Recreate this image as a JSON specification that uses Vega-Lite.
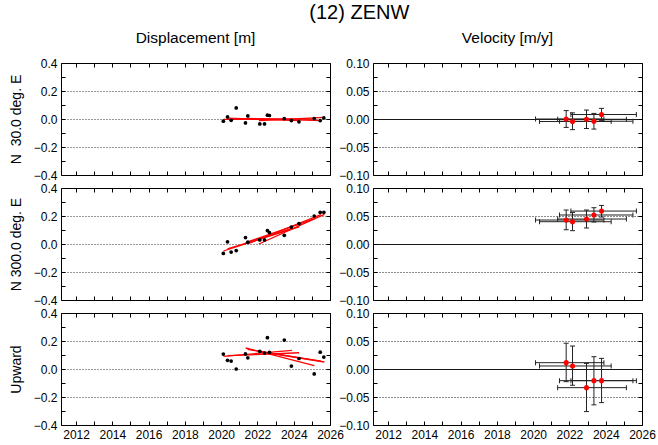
{
  "$schema": "https://vega.github.io/schema/vega-lite/v6.json",
  "padding": {"left": 8, "top": 3, "right": 0, "bottom": 3},
  "title": {"text": "(12) ZENW", "fontSize": 20, "font": "Liberation Sans", "fontWeight": "normal", "color": "black", "anchor": "middle", "offset": 7, "dx": 27},
  "datasets": {
    "disp": [
      {"comp": "N30", "t": 2020.12, "d": -0.016}, {"comp": "N30", "t": 2020.35, "d": 0.015}, {"comp": "N30", "t": 2020.55, "d": -0.009}, {"comp": "N30", "t": 2020.83, "d": 0.079},
      {"comp": "N30", "t": 2021.34, "d": -0.028}, {"comp": "N30", "t": 2021.47, "d": 0.022}, {"comp": "N30", "t": 2022.13, "d": -0.035}, {"comp": "N30", "t": 2022.39, "d": -0.035},
      {"comp": "N30", "t": 2022.55, "d": 0.027}, {"comp": "N30", "t": 2022.66, "d": 0.025}, {"comp": "N30", "t": 2023.48, "d": 0.003}, {"comp": "N30", "t": 2023.87, "d": -0.011},
      {"comp": "N30", "t": 2024.29, "d": -0.02}, {"comp": "N30", "t": 2025.13, "d": 0.003}, {"comp": "N30", "t": 2025.46, "d": -0.011}, {"comp": "N30", "t": 2025.66, "d": 0.008},
      {"comp": "N300", "t": 2020.12, "d": -0.067}, {"comp": "N300", "t": 2020.35, "d": 0.016}, {"comp": "N300", "t": 2020.55, "d": -0.058}, {"comp": "N300", "t": 2020.83, "d": -0.047},
      {"comp": "N300", "t": 2021.34, "d": 0.046}, {"comp": "N300", "t": 2021.47, "d": 0.013}, {"comp": "N300", "t": 2022.13, "d": 0.029}, {"comp": "N300", "t": 2022.39, "d": 0.029},
      {"comp": "N300", "t": 2022.55, "d": 0.096}, {"comp": "N300", "t": 2022.66, "d": 0.082}, {"comp": "N300", "t": 2023.48, "d": 0.062}, {"comp": "N300", "t": 2023.87, "d": 0.121},
      {"comp": "N300", "t": 2024.29, "d": 0.145}, {"comp": "N300", "t": 2025.13, "d": 0.2}, {"comp": "N300", "t": 2025.46, "d": 0.226}, {"comp": "N300", "t": 2025.66, "d": 0.226},
      {"comp": "UP", "t": 2020.12, "d": 0.107}, {"comp": "UP", "t": 2020.35, "d": 0.062}, {"comp": "UP", "t": 2020.55, "d": 0.057}, {"comp": "UP", "t": 2020.83, "d": 0.0},
      {"comp": "UP", "t": 2021.34, "d": 0.108}, {"comp": "UP", "t": 2021.47, "d": 0.08}, {"comp": "UP", "t": 2022.13, "d": 0.126}, {"comp": "UP", "t": 2022.39, "d": 0.114},
      {"comp": "UP", "t": 2022.55, "d": 0.224}, {"comp": "UP", "t": 2022.66, "d": 0.119}, {"comp": "UP", "t": 2023.48, "d": 0.207}, {"comp": "UP", "t": 2023.87, "d": 0.021},
      {"comp": "UP", "t": 2024.29, "d": 0.075}, {"comp": "UP", "t": 2025.13, "d": -0.035}, {"comp": "UP", "t": 2025.46, "d": 0.12}, {"comp": "UP", "t": 2025.66, "d": 0.085}
    ],
    "fit": [
      {"comp": "N30", "t1": 2020.13, "t2": 2023.9, "y1": -0.002, "y2": -0.002},
      {"comp": "N30", "t1": 2020.35, "t2": 2024.3, "y1": 0.006, "y2": -0.012},
      {"comp": "N30", "t1": 2021.35, "t2": 2025.14, "y1": 0.0, "y2": -0.001},
      {"comp": "N30", "t1": 2021.45, "t2": 2025.5, "y1": 0.004, "y2": -0.012},
      {"comp": "N30", "t1": 2022.08, "t2": 2025.69, "y1": -0.012, "y2": 0.012},
      {"comp": "N300", "t1": 2020.13, "t2": 2023.9, "y1": -0.05, "y2": 0.111},
      {"comp": "N300", "t1": 2020.35, "t2": 2024.3, "y1": -0.035, "y2": 0.122},
      {"comp": "N300", "t1": 2021.35, "t2": 2025.14, "y1": 0.01, "y2": 0.179},
      {"comp": "N300", "t1": 2021.45, "t2": 2025.5, "y1": 0.0, "y2": 0.21},
      {"comp": "N300", "t1": 2022.08, "t2": 2025.69, "y1": 0.0, "y2": 0.212},
      {"comp": "UP", "t1": 2020.13, "t2": 2023.9, "y1": 0.09, "y2": 0.133},
      {"comp": "UP", "t1": 2020.35, "t2": 2024.3, "y1": 0.095, "y2": 0.116},
      {"comp": "UP", "t1": 2021.35, "t2": 2025.14, "y1": 0.15, "y2": 0.024},
      {"comp": "UP", "t1": 2021.45, "t2": 2025.5, "y1": 0.14, "y2": 0.056},
      {"comp": "UP", "t1": 2022.08, "t2": 2025.69, "y1": 0.125, "y2": 0.05}
    ],
    "vel": [
      {"comp": "N30", "t": 2021.82, "v": 0.0, "vlo": -0.015, "vhi": 0.015, "tlo": 2020.13, "thi": 2023.9},
      {"comp": "N30", "t": 2022.17, "v": -0.0045, "vlo": -0.019, "vhi": 0.011, "tlo": 2020.35, "thi": 2024.3},
      {"comp": "N30", "t": 2022.94, "v": -0.0005, "vlo": -0.017, "vhi": 0.016, "tlo": 2021.35, "thi": 2025.14},
      {"comp": "N30", "t": 2023.35, "v": -0.004, "vlo": -0.018, "vhi": 0.01, "tlo": 2021.45, "thi": 2025.5},
      {"comp": "N30", "t": 2023.77, "v": 0.008, "vlo": -0.003, "vhi": 0.019, "tlo": 2022.08, "thi": 2025.69},
      {"comp": "N300", "t": 2021.82, "v": 0.0428, "vlo": 0.0255, "vhi": 0.0607, "tlo": 2020.13, "thi": 2023.9},
      {"comp": "N300", "t": 2022.17, "v": 0.0398, "vlo": 0.0238, "vhi": 0.0565, "tlo": 2020.35, "thi": 2024.3},
      {"comp": "N300", "t": 2022.94, "v": 0.0446, "vlo": 0.0286, "vhi": 0.0607, "tlo": 2021.35, "thi": 2025.14},
      {"comp": "N300", "t": 2023.35, "v": 0.0518, "vlo": 0.0393, "vhi": 0.0648, "tlo": 2021.45, "thi": 2025.5},
      {"comp": "N300", "t": 2023.77, "v": 0.0588, "vlo": 0.0482, "vhi": 0.0689, "tlo": 2022.08, "thi": 2025.69},
      {"comp": "UP", "t": 2021.82, "v": 0.0113, "vlo": -0.0226, "vhi": 0.046, "tlo": 2020.13, "thi": 2023.9},
      {"comp": "UP", "t": 2022.17, "v": 0.0054, "vlo": -0.029, "vhi": 0.041, "tlo": 2020.35, "thi": 2024.3},
      {"comp": "UP", "t": 2022.94, "v": -0.0333, "vlo": -0.076, "vhi": 0.01, "tlo": 2021.35, "thi": 2025.14},
      {"comp": "UP", "t": 2023.35, "v": -0.0208, "vlo": -0.064, "vhi": 0.022, "tlo": 2021.45, "thi": 2025.5},
      {"comp": "UP", "t": 2023.77, "v": -0.0208, "vlo": -0.06, "vhi": 0.019, "tlo": 2022.08, "thi": 2025.69}
    ]
  },
  "columns": 2,
  "spacing": {"row": 13, "column": 43},
  "bounds": "flush",
  "concat": [
    {
      "width": 269, "height": 112,
      "title": {"text": "Displacement [m]", "fontSize": 15.5, "font": "Liberation Sans", "fontWeight": "normal", "color": "black", "offset": 11},
      "layer": [
        {"data": {"name": "fit"}, "transform": [{"filter": "datum.comp === 'N30'"}],
         "mark": {"type": "rule", "color": "#ff0000", "strokeWidth": 1.3},
         "encoding": {
           "x": {"field": "t1", "type": "quantitative", "scale": {"domain": [2011.17, 2026], "nice": false, "zero": false},
                 "axis": {"orient": "top", "title": null, "labels": false, "values": [2012,2013,2014,2015,2016,2017,2018,2019,2020,2021,2022,2023,2024,2025,2026], "tickSize": -4, "grid": false}},
           "x2": {"field": "t2"},
           "y": {"field": "y1", "type": "quantitative", "scale": {"domain": [-0.4, 0.4], "nice": false, "zero": false},
                 "axis": {"orient": "right", "title": null, "labels": false, "values": [-0.4,-0.3,-0.2,-0.1,0,0.1,0.2,0.3,0.4], "tickSize": -4, "grid": false}},
           "y2": {"field": "y2"}
         }},
        {"data": {"name": "disp"}, "transform": [{"filter": "datum.comp === 'N30'"}],
         "mark": {"type": "circle", "color": "black", "size": 14, "opacity": 1},
         "encoding": {
           "x": {"field": "t", "type": "quantitative", "scale": {"domain": [2011.17, 2026], "nice": false, "zero": false},
                 "axis": {"orient": "bottom", "title": null, "labels": false, "values": [2012,2013,2014,2015,2016,2017,2018,2019,2020,2021,2022,2023,2024,2025,2026], "tickSize": -4, "grid": false}},
           "y": {"field": "d", "type": "quantitative", "scale": {"domain": [-0.4, 0.4], "nice": false, "zero": false},
                 "axis": {"orient": "left", "title": "N \u00a030.0 deg. E", "values": [-0.4,-0.3,-0.2,-0.1,0,0.1,0.2,0.3,0.4], "format": ".1f",
                          "labelExpr": "round(datum.value*10) % 2 === 0 ? datum.label : ''", "tickSize": -4, "labelPadding": 8,
                          "grid": true, "gridDash": [1, 2], "gridColor": "black",
                          "gridOpacity": {"condition": {"test": "abs(datum.value) < 0.3 && round(datum.value*10) % 2 === 0", "value": 0.8}, "value": 0}}}
         }}
      ],
      "resolve": {"axis": {"x": "independent", "y": "independent"}}
    },
    {
      "width": 269, "height": 112,
      "title": {"text": "Velocity [m/y]", "fontSize": 15.5, "font": "Liberation Sans", "fontWeight": "normal", "color": "black", "offset": 11},
      "data": {"name": "vel"},
      "transform": [{"filter": "datum.comp === 'N30'"}],
      "layer": [
        {"mark": {"type": "rule", "color": "#222", "strokeWidth": 1},
         "encoding": {
           "x": {"field": "tlo", "type": "quantitative", "scale": {"domain": [2011.17, 2026], "nice": false, "zero": false},
                 "axis": {"orient": "bottom", "title": null, "labels": false, "values": [2012,2013,2014,2015,2016,2017,2018,2019,2020,2021,2022,2023,2024,2025,2026], "tickSize": -4, "grid": false}},
           "x2": {"field": "thi"},
           "y": {"field": "v", "type": "quantitative", "scale": {"domain": [-0.1, 0.1], "nice": false, "zero": false},
                 "axis": {"orient": "left", "title": null, "values": [-0.1,-0.075,-0.05,-0.025,0,0.025,0.05,0.075,0.1], "format": ".2f",
                          "labelExpr": "round(datum.value*40) % 2 === 0 ? datum.label : ''", "tickSize": -4, "labelPadding": 8,
                          "grid": true, "gridColor": "black",
                          "gridDash": {"condition": {"test": "abs(datum.value) < 0.001", "value": []}, "value": [1, 2]},
                          "gridOpacity": {"condition": {"test": "abs(datum.value) < 0.001 || abs(abs(datum.value) - 0.05) < 0.001", "value": 0.9}, "value": 0}}}
         }},
        {"mark": {"type": "rule", "color": "#222", "strokeWidth": 1},
         "encoding": {
           "x": {"field": "t", "type": "quantitative",
                 "axis": {"orient": "top", "title": null, "labels": false, "values": [2012,2013,2014,2015,2016,2017,2018,2019,2020,2021,2022,2023,2024,2025,2026], "tickSize": -4, "grid": false}},
           "y": {"field": "vlo", "type": "quantitative",
                 "axis": {"orient": "right", "title": null, "labels": false, "values": [-0.1,-0.075,-0.05,-0.025,0,0.025,0.05,0.075,0.1], "tickSize": -4, "grid": false}},
           "y2": {"field": "vhi"}
         }},
        {"mark": {"type": "tick", "orient": "vertical", "size": 5, "thickness": 1, "color": "#222", "opacity": 1},
         "encoding": {"x": {"field": "tlo", "type": "quantitative", "axis": null}, "y": {"field": "v", "type": "quantitative", "axis": null}}},
        {"mark": {"type": "tick", "orient": "vertical", "size": 5, "thickness": 1, "color": "#222", "opacity": 1},
         "encoding": {"x": {"field": "thi", "type": "quantitative", "axis": null}, "y": {"field": "v", "type": "quantitative", "axis": null}}},
        {"mark": {"type": "tick", "orient": "horizontal", "size": 5, "thickness": 1, "color": "#222", "opacity": 1},
         "encoding": {"x": {"field": "t", "type": "quantitative", "axis": null}, "y": {"field": "vlo", "type": "quantitative", "axis": null}}},
        {"mark": {"type": "tick", "orient": "horizontal", "size": 5, "thickness": 1, "color": "#222", "opacity": 1},
         "encoding": {"x": {"field": "t", "type": "quantitative", "axis": null}, "y": {"field": "vhi", "type": "quantitative", "axis": null}}},
        {"mark": {"type": "circle", "color": "#ff0000", "size": 26, "opacity": 1},
         "encoding": {"x": {"field": "t", "type": "quantitative", "axis": null}, "y": {"field": "v", "type": "quantitative", "axis": null}}}
      ],
      "resolve": {"axis": {"x": "independent", "y": "independent"}}
    },
    {
      "width": 269, "height": 112,
      "layer": [
        {"data": {"name": "fit"}, "transform": [{"filter": "datum.comp === 'N300'"}],
         "mark": {"type": "rule", "color": "#ff0000", "strokeWidth": 1.3},
         "encoding": {
           "x": {"field": "t1", "type": "quantitative", "scale": {"domain": [2011.17, 2026], "nice": false, "zero": false},
                 "axis": {"orient": "top", "title": null, "labels": false, "values": [2012,2013,2014,2015,2016,2017,2018,2019,2020,2021,2022,2023,2024,2025,2026], "tickSize": -4, "grid": false}},
           "x2": {"field": "t2"},
           "y": {"field": "y1", "type": "quantitative", "scale": {"domain": [-0.4, 0.4], "nice": false, "zero": false},
                 "axis": {"orient": "right", "title": null, "labels": false, "values": [-0.4,-0.3,-0.2,-0.1,0,0.1,0.2,0.3,0.4], "tickSize": -4, "grid": false}},
           "y2": {"field": "y2"}
         }},
        {"data": {"name": "disp"}, "transform": [{"filter": "datum.comp === 'N300'"}],
         "mark": {"type": "circle", "color": "black", "size": 14, "opacity": 1},
         "encoding": {
           "x": {"field": "t", "type": "quantitative", "scale": {"domain": [2011.17, 2026], "nice": false, "zero": false},
                 "axis": {"orient": "bottom", "title": null, "labels": false, "values": [2012,2013,2014,2015,2016,2017,2018,2019,2020,2021,2022,2023,2024,2025,2026], "tickSize": -4, "grid": false}},
           "y": {"field": "d", "type": "quantitative", "scale": {"domain": [-0.4, 0.4], "nice": false, "zero": false},
                 "axis": {"orient": "left", "title": "N 300.0 deg. E", "values": [-0.4,-0.3,-0.2,-0.1,0,0.1,0.2,0.3,0.4], "format": ".1f",
                          "labelExpr": "round(datum.value*10) % 2 === 0 ? datum.label : ''", "tickSize": -4, "labelPadding": 8,
                          "grid": true, "gridDash": [1, 2], "gridColor": "black",
                          "gridOpacity": {"condition": {"test": "abs(datum.value) < 0.3 && round(datum.value*10) % 2 === 0", "value": 0.8}, "value": 0}}}
         }}
      ],
      "resolve": {"axis": {"x": "independent", "y": "independent"}}
    },
    {
      "width": 269, "height": 112,
      "data": {"name": "vel"},
      "transform": [{"filter": "datum.comp === 'N300'"}],
      "layer": [
        {"mark": {"type": "rule", "color": "#222", "strokeWidth": 1},
         "encoding": {
           "x": {"field": "tlo", "type": "quantitative", "scale": {"domain": [2011.17, 2026], "nice": false, "zero": false},
                 "axis": {"orient": "bottom", "title": null, "labels": false, "values": [2012,2013,2014,2015,2016,2017,2018,2019,2020,2021,2022,2023,2024,2025,2026], "tickSize": -4, "grid": false}},
           "x2": {"field": "thi"},
           "y": {"field": "v", "type": "quantitative", "scale": {"domain": [-0.1, 0.1], "nice": false, "zero": false},
                 "axis": {"orient": "left", "title": null, "values": [-0.1,-0.075,-0.05,-0.025,0,0.025,0.05,0.075,0.1], "format": ".2f",
                          "labelExpr": "round(datum.value*40) % 2 === 0 ? datum.label : ''", "tickSize": -4, "labelPadding": 8,
                          "grid": true, "gridColor": "black",
                          "gridDash": {"condition": {"test": "abs(datum.value) < 0.001", "value": []}, "value": [1, 2]},
                          "gridOpacity": {"condition": {"test": "abs(datum.value) < 0.001 || abs(abs(datum.value) - 0.05) < 0.001", "value": 0.9}, "value": 0}}}
         }},
        {"mark": {"type": "rule", "color": "#222", "strokeWidth": 1},
         "encoding": {
           "x": {"field": "t", "type": "quantitative",
                 "axis": {"orient": "top", "title": null, "labels": false, "values": [2012,2013,2014,2015,2016,2017,2018,2019,2020,2021,2022,2023,2024,2025,2026], "tickSize": -4, "grid": false}},
           "y": {"field": "vlo", "type": "quantitative",
                 "axis": {"orient": "right", "title": null, "labels": false, "values": [-0.1,-0.075,-0.05,-0.025,0,0.025,0.05,0.075,0.1], "tickSize": -4, "grid": false}},
           "y2": {"field": "vhi"}
         }},
        {"mark": {"type": "tick", "orient": "vertical", "size": 5, "thickness": 1, "color": "#222", "opacity": 1},
         "encoding": {"x": {"field": "tlo", "type": "quantitative", "axis": null}, "y": {"field": "v", "type": "quantitative", "axis": null}}},
        {"mark": {"type": "tick", "orient": "vertical", "size": 5, "thickness": 1, "color": "#222", "opacity": 1},
         "encoding": {"x": {"field": "thi", "type": "quantitative", "axis": null}, "y": {"field": "v", "type": "quantitative", "axis": null}}},
        {"mark": {"type": "tick", "orient": "horizontal", "size": 5, "thickness": 1, "color": "#222", "opacity": 1},
         "encoding": {"x": {"field": "t", "type": "quantitative", "axis": null}, "y": {"field": "vlo", "type": "quantitative", "axis": null}}},
        {"mark": {"type": "tick", "orient": "horizontal", "size": 5, "thickness": 1, "color": "#222", "opacity": 1},
         "encoding": {"x": {"field": "t", "type": "quantitative", "axis": null}, "y": {"field": "vhi", "type": "quantitative", "axis": null}}},
        {"mark": {"type": "circle", "color": "#ff0000", "size": 26, "opacity": 1},
         "encoding": {"x": {"field": "t", "type": "quantitative", "axis": null}, "y": {"field": "v", "type": "quantitative", "axis": null}}}
      ],
      "resolve": {"axis": {"x": "independent", "y": "independent"}}
    },
    {
      "width": 269, "height": 112,
      "layer": [
        {"data": {"name": "fit"}, "transform": [{"filter": "datum.comp === 'UP'"}],
         "mark": {"type": "rule", "color": "#ff0000", "strokeWidth": 1.3},
         "encoding": {
           "x": {"field": "t1", "type": "quantitative", "scale": {"domain": [2011.17, 2026], "nice": false, "zero": false},
                 "axis": {"orient": "top", "title": null, "labels": false, "values": [2012,2013,2014,2015,2016,2017,2018,2019,2020,2021,2022,2023,2024,2025,2026], "tickSize": -4, "grid": false}},
           "x2": {"field": "t2"},
           "y": {"field": "y1", "type": "quantitative", "scale": {"domain": [-0.4, 0.4], "nice": false, "zero": false},
                 "axis": {"orient": "right", "title": null, "labels": false, "values": [-0.4,-0.3,-0.2,-0.1,0,0.1,0.2,0.3,0.4], "tickSize": -4, "grid": false}},
           "y2": {"field": "y2"}
         }},
        {"data": {"name": "disp"}, "transform": [{"filter": "datum.comp === 'UP'"}],
         "mark": {"type": "circle", "color": "black", "size": 14, "opacity": 1},
         "encoding": {
           "x": {"field": "t", "type": "quantitative", "scale": {"domain": [2011.17, 2026], "nice": false, "zero": false},
                 "axis": {"orient": "bottom", "title": null, "labels": true, "values": [2012,2013,2014,2015,2016,2017,2018,2019,2020,2021,2022,2023,2024,2025,2026], "format": "d",
                          "labelExpr": "datum.value % 2 === 0 ? datum.label : ''", "tickSize": -4, "labelPadding": 8, "grid": false}},
           "y": {"field": "d", "type": "quantitative", "scale": {"domain": [-0.4, 0.4], "nice": false, "zero": false},
                 "axis": {"orient": "left", "title": "Upward", "values": [-0.4,-0.3,-0.2,-0.1,0,0.1,0.2,0.3,0.4], "format": ".1f",
                          "labelExpr": "round(datum.value*10) % 2 === 0 ? datum.label : ''", "tickSize": -4, "labelPadding": 8,
                          "grid": true, "gridDash": [1, 2], "gridColor": "black",
                          "gridOpacity": {"condition": {"test": "abs(datum.value) < 0.3 && round(datum.value*10) % 2 === 0", "value": 0.8}, "value": 0}}}
         }}
      ],
      "resolve": {"axis": {"x": "independent", "y": "independent"}}
    },
    {
      "width": 269, "height": 112,
      "data": {"name": "vel"},
      "transform": [{"filter": "datum.comp === 'UP'"}],
      "layer": [
        {"mark": {"type": "rule", "color": "#222", "strokeWidth": 1},
         "encoding": {
           "x": {"field": "tlo", "type": "quantitative", "scale": {"domain": [2011.17, 2026], "nice": false, "zero": false},
                 "axis": {"orient": "bottom", "title": null, "labels": true, "values": [2012,2013,2014,2015,2016,2017,2018,2019,2020,2021,2022,2023,2024,2025,2026], "format": "d",
                          "labelExpr": "datum.value % 2 === 0 ? datum.label : ''", "tickSize": -4, "labelPadding": 8, "grid": false}},
           "x2": {"field": "thi"},
           "y": {"field": "v", "type": "quantitative", "scale": {"domain": [-0.1, 0.1], "nice": false, "zero": false},
                 "axis": {"orient": "left", "title": null, "values": [-0.1,-0.075,-0.05,-0.025,0,0.025,0.05,0.075,0.1], "format": ".2f",
                          "labelExpr": "round(datum.value*40) % 2 === 0 ? datum.label : ''", "tickSize": -4, "labelPadding": 8,
                          "grid": true, "gridColor": "black",
                          "gridDash": {"condition": {"test": "abs(datum.value) < 0.001", "value": []}, "value": [1, 2]},
                          "gridOpacity": {"condition": {"test": "abs(datum.value) < 0.001 || abs(abs(datum.value) - 0.05) < 0.001", "value": 0.9}, "value": 0}}}
         }},
        {"mark": {"type": "rule", "color": "#222", "strokeWidth": 1},
         "encoding": {
           "x": {"field": "t", "type": "quantitative",
                 "axis": {"orient": "top", "title": null, "labels": false, "values": [2012,2013,2014,2015,2016,2017,2018,2019,2020,2021,2022,2023,2024,2025,2026], "tickSize": -4, "grid": false}},
           "y": {"field": "vlo", "type": "quantitative",
                 "axis": {"orient": "right", "title": null, "labels": false, "values": [-0.1,-0.075,-0.05,-0.025,0,0.025,0.05,0.075,0.1], "tickSize": -4, "grid": false}},
           "y2": {"field": "vhi"}
         }},
        {"mark": {"type": "tick", "orient": "vertical", "size": 5, "thickness": 1, "color": "#222", "opacity": 1},
         "encoding": {"x": {"field": "tlo", "type": "quantitative", "axis": null}, "y": {"field": "v", "type": "quantitative", "axis": null}}},
        {"mark": {"type": "tick", "orient": "vertical", "size": 5, "thickness": 1, "color": "#222", "opacity": 1},
         "encoding": {"x": {"field": "thi", "type": "quantitative", "axis": null}, "y": {"field": "v", "type": "quantitative", "axis": null}}},
        {"mark": {"type": "tick", "orient": "horizontal", "size": 5, "thickness": 1, "color": "#222", "opacity": 1},
         "encoding": {"x": {"field": "t", "type": "quantitative", "axis": null}, "y": {"field": "vlo", "type": "quantitative", "axis": null}}},
        {"mark": {"type": "tick", "orient": "horizontal", "size": 5, "thickness": 1, "color": "#222", "opacity": 1},
         "encoding": {"x": {"field": "t", "type": "quantitative", "axis": null}, "y": {"field": "vhi", "type": "quantitative", "axis": null}}},
        {"mark": {"type": "circle", "color": "#ff0000", "size": 26, "opacity": 1},
         "encoding": {"x": {"field": "t", "type": "quantitative", "axis": null}, "y": {"field": "v", "type": "quantitative", "axis": null}}}
      ],
      "resolve": {"axis": {"x": "independent", "y": "independent"}}
    }
  ],
  "config": {
    "background": "white",
    "view": {"stroke": "black", "strokeWidth": 1},
    "axis": {"labelFont": "Liberation Sans", "labelFontSize": 12, "labelColor": "black", "domain": false, "tickColor": "black", "tickWidth": 1,
             "titleFont": "Liberation Sans", "titleFontSize": 14, "titleFontWeight": "normal", "titleColor": "black", "titlePadding": 10,
             "labelOverlap": false, "labelFlush": false}
  }
}
